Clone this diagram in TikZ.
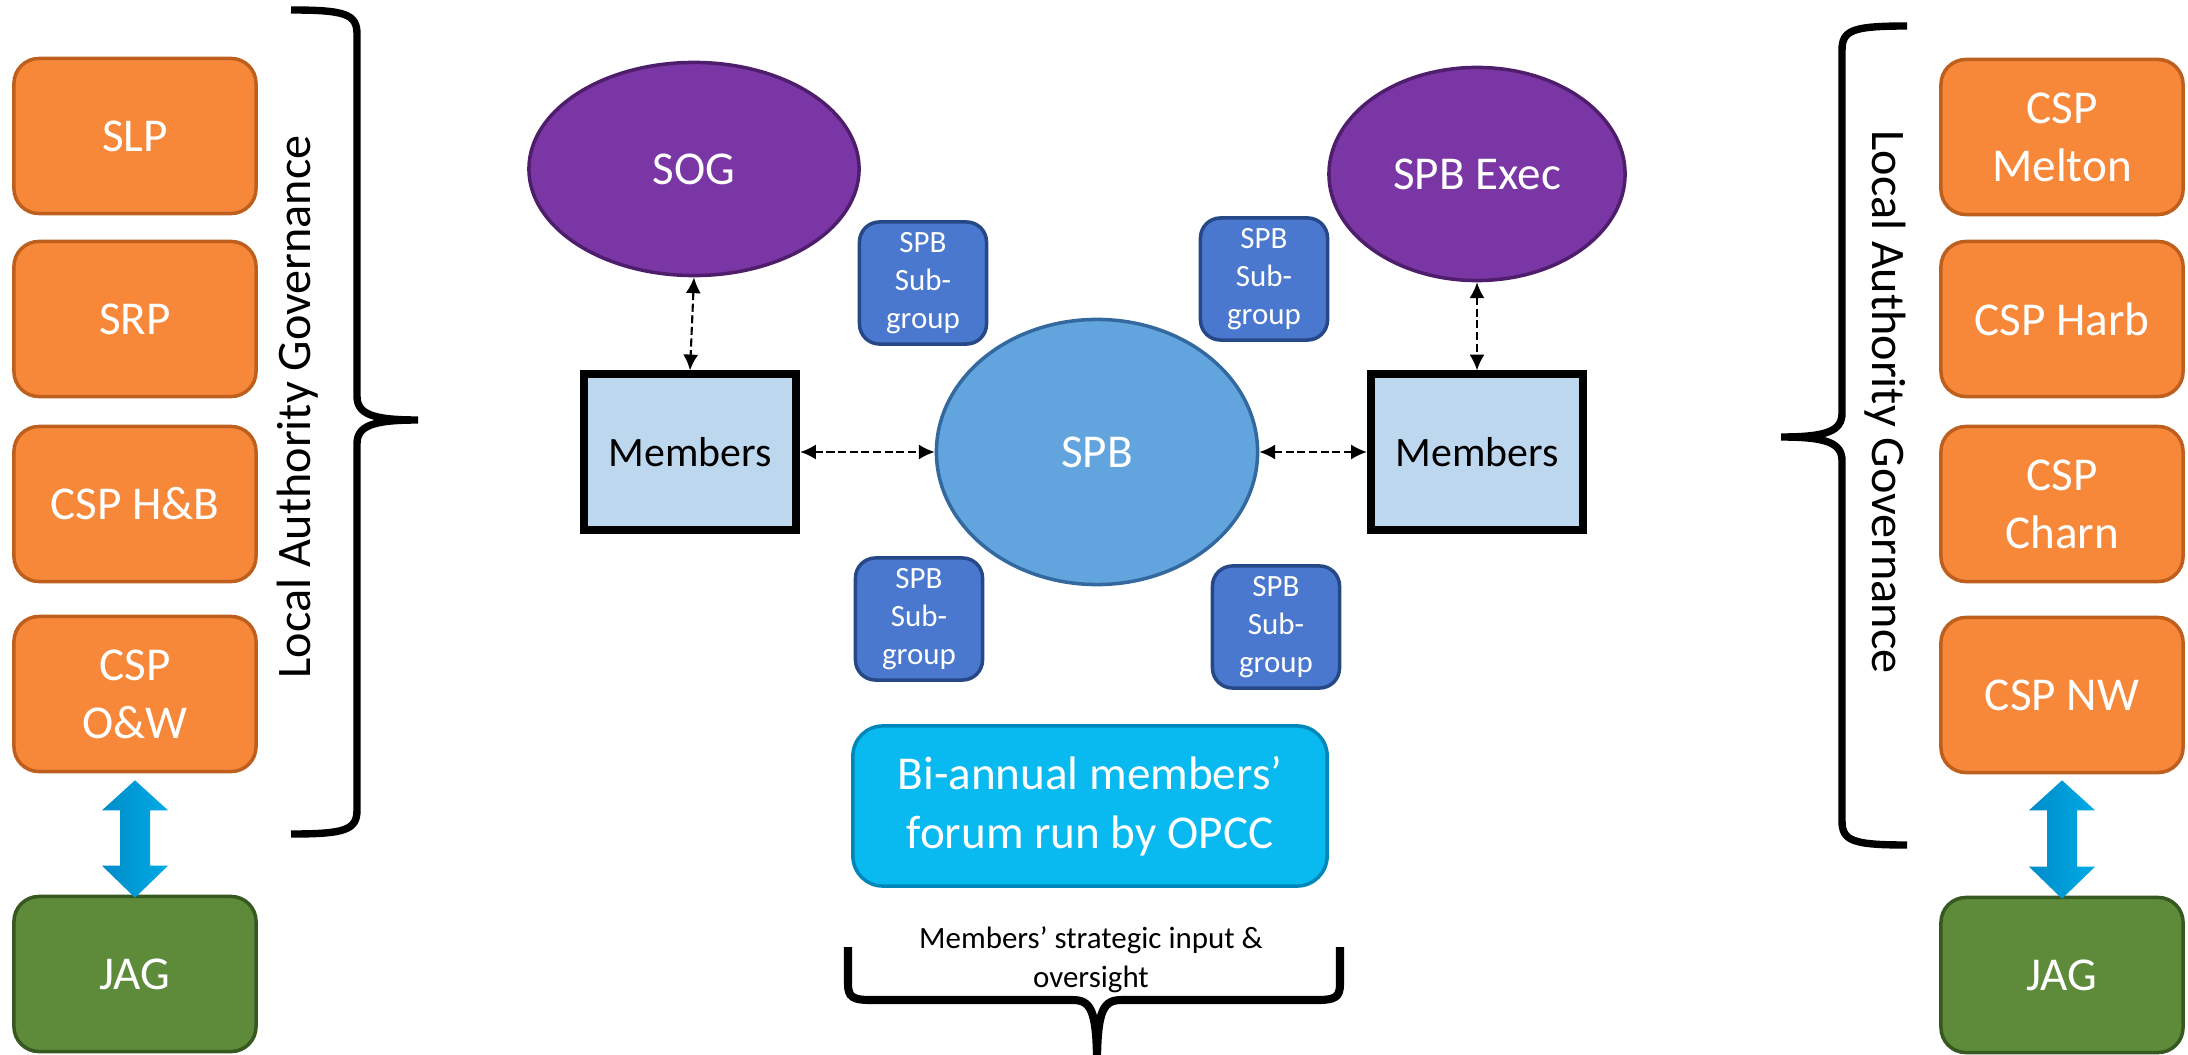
\documentclass[tikz,border=0pt]{standalone}
\usepackage{fontspec}
\setmainfont{Carlito}
\usepackage{xcolor}
\usepackage{tikz}
\usetikzlibrary{shapes.geometric,arrows.meta,calc}

\definecolor{laorange}{RGB}{247,136,58}
\definecolor{laorangedk}{RGB}{190,95,30}
\definecolor{jaggreen}{RGB}{94,139,58}
\definecolor{jaggreendk}{RGB}{55,88,32}
\definecolor{grppurple}{RGB}{121,54,164}
\definecolor{grppurpledk}{RGB}{78,30,108}
\definecolor{spbblue}{RGB}{98,164,221}
\definecolor{spbbluedk}{RGB}{52,105,160}
\definecolor{subblue}{RGB}{74,120,206}
\definecolor{subbluedk}{RGB}{38,72,135}
\definecolor{forumcyan}{RGB}{8,186,240}
\definecolor{forumcyandk}{RGB}{0,135,185}
\definecolor{memberfill}{RGB}{189,215,238}

\begin{document}
\begin{tikzpicture}[
  x = 0.01cm, y = -0.01cm,
  every node/.style = {align = center, text = white},
  partner/.style = {rectangle, rounded corners = 0.25cm, minimum width = 2.42cm,
                    minimum height = 1.55cm, fill = laorange, draw = laorangedk,
                    line width = 1pt, font = \fontsize{13.4}{16.5}\selectfont},
  jag/.style = {partner, fill = jaggreen, draw = jaggreendk},
  group/.style = {ellipse, fill = grppurple, draw = grppurpledk, line width = 1pt,
                  minimum height = 2.13cm, font = \fontsize{13.4}{16}\selectfont},
  members/.style = {rectangle, fill = memberfill, draw = black, line width = 2.3pt,
                    minimum width = 2.12cm, minimum height = 1.55cm, text = black,
                    font = \fontsize{11.9}{14}\selectfont},
  subgroup/.style = {rectangle, rounded corners = 0.2cm, fill = subblue, draw = subbluedk,
                     line width = 1pt, minimum width = 1.27cm, minimum height = 1.22cm,
                     inner sep = 0pt, font = \fontsize{8.8}{10.8}\selectfont},
  link/.style = {dashed, dash pattern = on 2.3pt off 1pt, line width = 0.6pt,
                 {Latex[length = 4.5pt, width = 4.3pt]}-{Latex[length = 4.5pt, width = 4.3pt]}},
  fatarrow/.style = {left color = {rgb,255:red,0;green,140;blue,200},
                     middle color = {rgb,255:red,0;green,196;blue,250},
                     right color = {rgb,255:red,0;green,170;blue,230}},
  brace/.style = {draw = black, line width = 2.1pt},
  govtext/.style = {text = black, font = \fontsize{13.7}{16}\selectfont}
  ]
  \useasboundingbox (0,0) rectangle (2188,1055);

  % left column
  \node[partner] (slp) at (135,136) {SLP};
  \node[partner] (srp) at (135,319) {SRP};
  \node[partner] (hb)  at (135,504) {CSP H\&B};
  \node[partner] (ow)  at (135,694) {CSP\\O\&W};
  \node[jag]     (jagL) at (135,974) {JAG};

  % right column
  \node[partner] (melton) at (2062,137) {CSP\\Melton};
  \node[partner] (harb)   at (2062,319) {CSP Harb};
  \node[partner] (charn)  at (2062,504) {CSP\\Charn};
  \node[partner] (nw)     at (2062,695) {CSP NW};
  \node[jag]     (jagR)   at (2062,975) {JAG};

  % board and groups
  \node[group, minimum width = 3.30cm] (sog) at (694,169) {SOG};
  \node[group, minimum width = 2.96cm] (exec) at (1477,174) {SPB Exec};
  \node[ellipse, fill = spbblue, draw = spbbluedk, line width = 1pt,
        minimum width = 3.21cm, minimum height = 2.65cm,
        font = \fontsize{13.4}{16}\selectfont] (spb) at (1097,452) {SPB};
  \node[members] (memL) at (690,452) {Members};
  \node[members] (memR) at (1477,452) {Members};

  \node[subgroup] (subA) at (923,283) {SPB\\Sub-\\group};
  \node[subgroup] (subB) at (1264,279) {SPB\\Sub-\\group};
  \node[subgroup] (subC) at (919,619) {SPB\\Sub-\\group};
  \node[subgroup] (subD) at (1276,627) {SPB\\Sub-\\group};

  \node[rectangle, rounded corners = 0.3cm, fill = forumcyan, draw = forumcyandk,
        line width = 1pt, minimum width = 4.74cm, minimum height = 1.60cm,
        font = \fontsize{13.4}{16.8}\selectfont] (forum) at (1090,806)
        {Bi-annual members’\\forum run by OPCC};
  \node[text = black, inner sep = 0pt, font = \fontsize{8.8}{11}\selectfont]
        (input) at (1091,960) {Members’ strategic input \&\\oversight};

  \draw[link] (sog.south) -- (memL.north);
  \draw[link] (exec.south) -- (memR.north);
  \draw[link] (memL.east) -- (spb.west);
  \draw[link] (spb.east) -- (memR.west);

  % partnership links to JAG
  \path[fatarrow] ($(ow.south)+(0,7)$) -- ($(ow.south)+(33,37)$) -- ($(ow.south)+(15,37)$)
    -- ($(jagL.north)+(15,-29)$) -- ($(jagL.north)+(33,-29)$) -- ($(jagL.north)+(0,3)$)
    -- ($(jagL.north)+(-33,-29)$) -- ($(jagL.north)+(-15,-29)$)
    -- ($(ow.south)+(-15,37)$) -- ($(ow.south)+(-33,37)$) -- cycle;
  \path[fatarrow] ($(nw.south)+(0,6)$) -- ($(nw.south)+(33,36)$) -- ($(nw.south)+(15,36)$)
    -- ($(jagR.north)+(15,-29)$) -- ($(jagR.north)+(33,-29)$) -- ($(jagR.north)+(0,3)$)
    -- ($(jagR.north)+(-33,-29)$) -- ($(jagR.north)+(-15,-29)$)
    -- ($(nw.south)+(-15,36)$) -- ($(nw.south)+(-33,36)$) -- cycle;

  % braces
  \draw[brace] (291,10) .. controls (345,10) and (357,14) .. (357,34) -- (357,396)
    .. controls (357,414) and (372,420) .. (418,420)
    .. controls (372,420) and (357,426) .. (357,444) -- (357,810)
    .. controls (357,830) and (345,834) .. (291,834);
  \draw[brace] (1907,26) .. controls (1853,26) and (1842,30) .. (1842,50) -- (1842,413)
    .. controls (1842,431) and (1827,437) .. (1781,437)
    .. controls (1827,437) and (1842,443) .. (1842,461) -- (1842,821)
    .. controls (1842,841) and (1853,845) .. (1907,845);
  \draw[brace, line width = 2.3pt] (848,947) -- (848,984)
    .. controls (848,997) and (853,1000) .. (870,1000) -- (1072,1000)
    .. controls (1090,1000) and (1097,1008) .. (1097,1065);
  \draw[brace, line width = 2.3pt] (1340,947) -- (1340,984)
    .. controls (1340,997) and (1335,1000) .. (1318,1000) -- (1122,1000)
    .. controls (1104,1000) and (1097,1008) .. (1097,1065);

  \node[govtext, rotate = 90] (govL) at (298,407) {Local Authority Governance};
  \node[govtext, rotate = -90] (govR) at (1885,402) {Local Authority Governance};
\end{tikzpicture}
\end{document}
